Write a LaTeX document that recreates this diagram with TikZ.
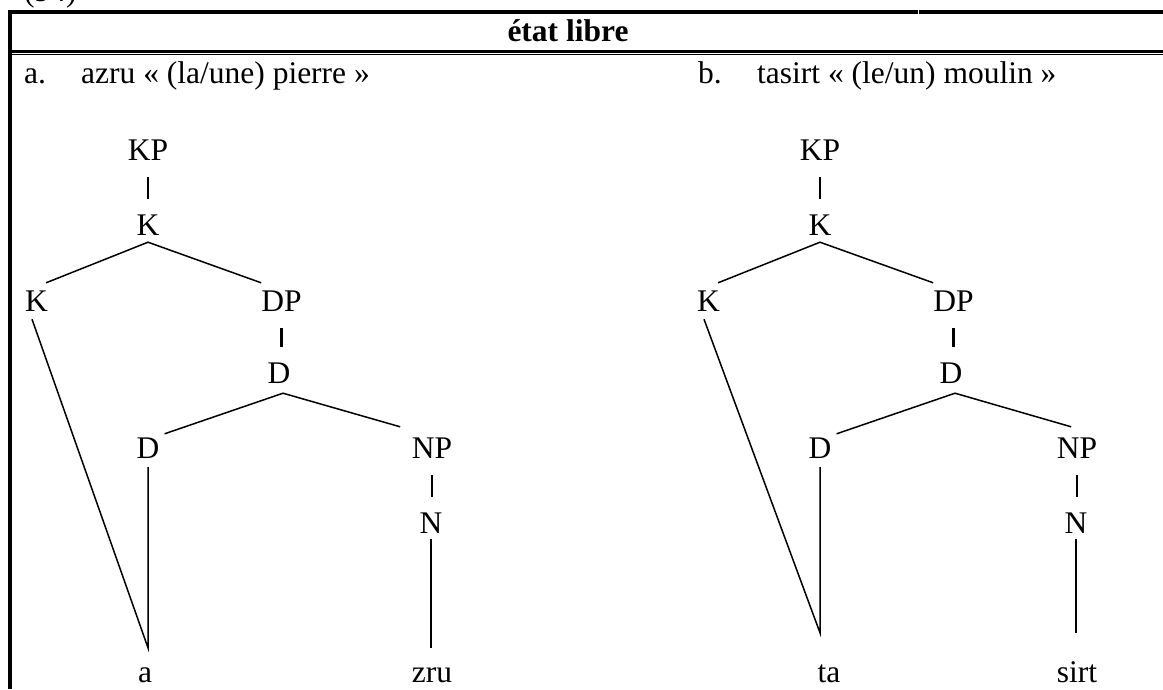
\documentclass[tikz,border=0pt]{standalone}
\usepackage{fontspec}
\setmainfont{Liberation Serif}

\tikzset{
  cat/.style={anchor=base, inner sep=0pt, text height=20pt, text depth=0pt},
  txt/.style={anchor=base west, inner sep=0pt},
  branch/.style={line width=1.5pt},
  bar/.style={line width=2.8pt, shorten <=17pt, shorten >=16pt},
  rim/.style={line width=4pt},
}

\begin{document}
\begin{tikzpicture}[x=1pt, y=-1pt, font=\fontsize{31.5}{37}\selectfont]
\useasboundingbox (0,0) rectangle (1163,689);
% Frame of the table
\node[txt] (num) at (24,1) {(94)};
\draw[rim] (8,12) -- (917.5,12);
\draw[rim] (918.5,12) -- (1163,12);
\draw[rim] (10,10) -- (10,689);
\draw[line width=3pt] (12,51) -- (1163,51);
\draw[line width=1.3pt] (12,54.8) -- (1163,54.8);
% Header and examples
\node[anchor=base, inner sep=0pt] (head) at (568,41) {\textbf{état libre}};
\node[txt] (la) at (24,83) {a.};
\node[txt] (ga) at (81,83) {azru « (la/une) pierre »};
\node[txt] (lb) at (698,83) {b.};
\node[txt] (gb) at (757,83) {tasirt « (le/un) moulin »};
% Trees
\foreach \t/\dx/\nx/\wx/\ne/\te/\wa/\wb in
  {a/0pt/432/145/-11.5/14/a/zru, b/672pt/405/157/14.5/29/ta/sirt}{
\begin{scope}[xshift=\dx]
\node[cat] (KP\t) at (148,160) {KP};
\node[cat] (K\t) at (148,235) {K};
\node[cat] (Kl\t) at (36.5,311) {K};
\node[cat] (DP\t) at (281.5,311) {DP};
\node[cat] (D\t) at (279,383) {D};
\node[cat] (Dl\t) at (148,458) {D};
\node[cat] (NP\t) at (\nx,458) {NP};
\node[cat] (N\t) at (\nx-1,533) {N};
\node[cat] (wl\t) at (\wx,682) {\wa};
\node[cat] (wr\t) at (\nx,682) {\wb};
\draw[bar] (KP\t.south) -- (K\t.north);
\draw[bar] (DP\t.south) -- (DP\t.south |- D\t.north);
\draw[bar] (NP\t.south) -- (NP\t.south |- N\t.north);
\draw[branch] ([xshift=-2pt,yshift=8pt]Kl\t.north east) -- ([yshift=-7pt]K\t.south)
  -- ([xshift=0pt,yshift=8pt]DP\t.north west);
\draw[branch] ([xshift=5pt,yshift=4pt]Dl\t.north east) -- ([xshift=4pt,yshift=-10pt]D\t.south)
  -- ([xshift=\ne pt,yshift=11pt]NP\t.north west);
\draw[branch] ([xshift=-4.5pt,yshift=-8pt]Kl\t.south) -- ([yshift=\te pt]Dl\t.south |- wl\t.north)
  -- ([yshift=-9pt]Dl\t.south);
\draw[branch] ([yshift=-6pt]N\t.south) -- ([yshift=\te pt]N\t.south |- wr\t.north);
\end{scope}
}
\end{tikzpicture}
\end{document}
